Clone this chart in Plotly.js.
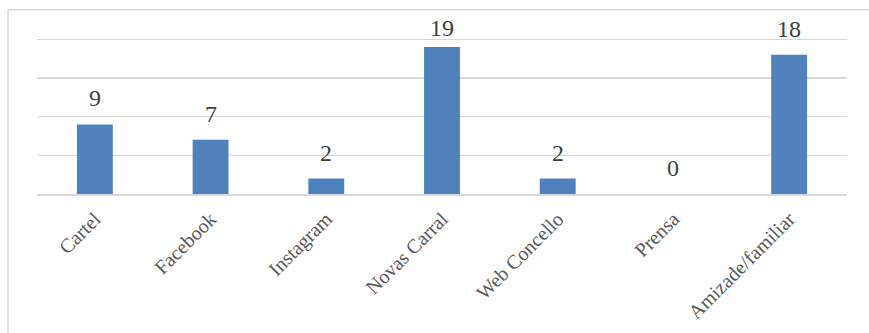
<!DOCTYPE html>
<html>
<head>
<meta charset="utf-8">
<script src="https://cdn.plot.ly/plotly-3.0.1.min.js"></script>
<style>html,body{margin:0;padding:0;background:#fff;}#chart{width:869px;height:333px;}</style>
</head>
<body>
<div id="chart"></div>
<script>
const categories = ["Cartel", "Facebook", "Instagram", "Novas Carral", "Web Concello", "Prensa", "Amizade/familiar"];
const values = [9, 7, 2, 19, 2, 0, 18];

const yMax = 20.3;
const labelAnnotations = categories.map((c, i) => ({
  x: c,
  y: Math.min(values[i] + 1.42, 19.5) / yMax,
  xref: 'x', yref: 'paper',
  text: String(values[i]),
  showarrow: false,
  yanchor: 'bottom',
  xanchor: 'center',
  font: {family: 'Liberation Serif, serif', size: 24, color: '#404040'}
}));

const borderColor = '#d9d9d9';
const shapes = [
  {type: 'line', xref: 'paper', yref: 'paper', x0: -0.0358, x1: -0.0358, y0: 1.173, y1: -1.2, line: {color: borderColor, width: 1.5}},
  {type: 'line', xref: 'paper', yref: 'paper', x0: -0.0358, x1: 1.1, y0: 1.173, y1: 1.173, line: {color: borderColor, width: 1.5}}
];

const trace = {
  type: 'bar',
  x: categories,
  y: values,
  marker: {color: '#4f81bd', line: {width: 0}},
  hoverinfo: 'skip'
};

const layout = {
  width: 869, height: 333,
  margin: {l: 37, r: 22, t: 37.2, b: 139},
  paper_bgcolor: '#ffffff',
  plot_bgcolor: '#ffffff',
  bargap: 0.69,
  showlegend: false,
  xaxis: {
    type: 'category',
    tickangle: -45,
    ticks: '',
    ticklabelstandoff: 4,
    showgrid: false,
    showline: true,
    linecolor: borderColor,
    linewidth: 1.5,
    tickfont: {family: 'Liberation Serif, serif', size: 20, color: '#595959'},
    fixedrange: true
  },
  yaxis: {
    range: [0, yMax],
    dtick: 5,
    showticklabels: false,
    ticks: '',
    showgrid: true,
    gridcolor: borderColor,
    gridwidth: 1.5,
    zeroline: false,
    showline: false,
    fixedrange: true
  },
  annotations: labelAnnotations,
  shapes: shapes
};

Plotly.newPlot('chart', [trace], layout, {displayModeBar: false, staticPlot: true});
</script>
</body>
</html>
